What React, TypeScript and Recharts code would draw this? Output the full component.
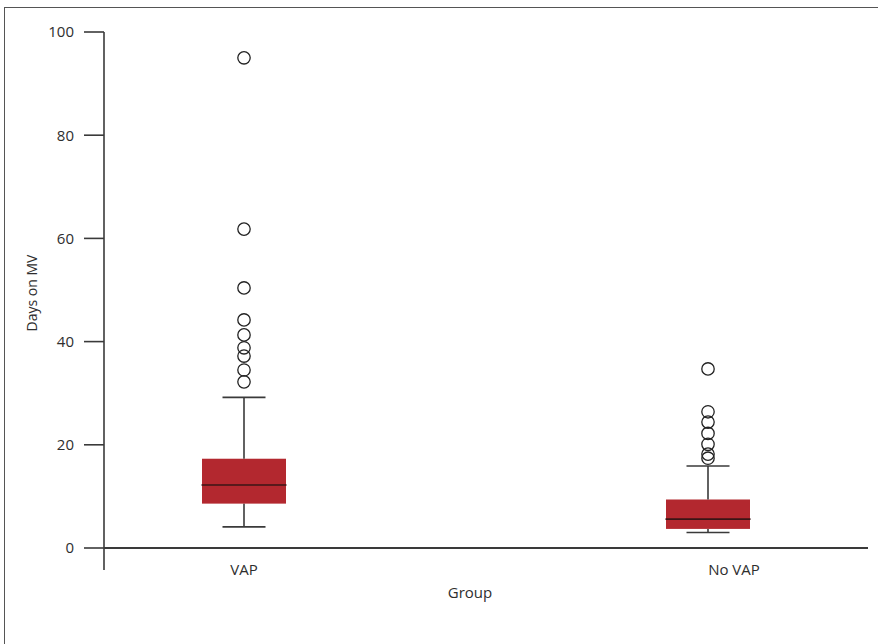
import React from 'react';
import {
  ComposedChart,
  Bar,
  Scatter,
  XAxis,
  YAxis,
  ReferenceLine,
  Label,
} from 'recharts';

// ---- data ----
const groups = ['VAP', 'No VAP'];
const mins = [4.1, 3.0];
const q1s = [8.6, 3.7];
const medians = [12.2, 5.6];
const q3s = [17.3, 9.4];
const maxs = [29.2, 15.9];
const vapOutliers = [32.2, 34.5, 37.2, 38.8, 41.3, 44.2, 50.4, 61.8, 95.0];
const noVapOutliers = [17.4, 18.2, 20.1, 22.2, 24.4, 26.4, 34.7];
const yTicks = [0, 20, 40, 60, 80, 100];

const positions = groups.map((_, i) => i + 1);

const boxData = groups.map((g, i) => ({
  name: g,
  pos: positions[i],
  base: mins[i],
  lowWhisker: q1s[i] - mins[i],
  lowBox: medians[i] - q1s[i],
  highBox: q3s[i] - medians[i],
  highWhisker: maxs[i] - q3s[i],
}));

const outlierData = [
  ...vapOutliers.map((v) => ({ pos: positions[0], value: v })),
  ...noVapOutliers.map((v) => ({ pos: positions[1], value: v })),
];

// ---- styles ----
const BOX_FILL = '#b3282f';
const MEDIAN = '#3a1416';
const LINE = '#3a3a3a';
const TEXT = '#2e2e2e';
const FONT = '"Open Sans", "Noto Sans", sans-serif';
const FS = 15;
const CAP = 43;
const labelShift = [0, 26];

const LowWhisker = (p: any) => {
  const { x, y, width, height } = p;
  const cx = x + width / 2;
  return (
    <g>
      <line x1={cx} x2={cx} y1={y} y2={y + height} stroke={LINE} strokeWidth={1.6} />
      <line x1={cx - CAP / 2} x2={cx + CAP / 2} y1={y + height} y2={y + height} stroke={LINE} strokeWidth={1.6} />
    </g>
  );
};

const HighWhisker = (p: any) => {
  const { x, y, width, height } = p;
  const cx = x + width / 2;
  return (
    <g>
      <line x1={cx} x2={cx} y1={y} y2={y + height} stroke={LINE} strokeWidth={1.6} />
      <line x1={cx - CAP / 2} x2={cx + CAP / 2} y1={y} y2={y} stroke={LINE} strokeWidth={1.6} />
    </g>
  );
};

const LowBox = (p: any) => {
  const { x, y, width, height } = p;
  return <rect x={x} y={y} width={width} height={height} fill={BOX_FILL} />;
};

const HighBox = (p: any) => {
  const { x, y, width, height } = p;
  return (
    <g>
      <rect x={x} y={y} width={width} height={height + 0.5} fill={BOX_FILL} />
      <line x1={x - 0.5} x2={x + width + 0.5} y1={y + height} y2={y + height} stroke={MEDIAN} strokeWidth={1.6} />
    </g>
  );
};

const Outlier = (p: any) => {
  const { cx, cy } = p;
  return <circle cx={cx} cy={cy} r={6.2} fill="none" stroke="#222" strokeWidth={1.3} />;
};

const XTick = (p: any) => {
  const { x, y, payload } = p;
  const idx = positions.indexOf(payload.value);
  if (idx < 0) return null;
  return (
    <text x={x + labelShift[idx]} y={y} dy={5} textAnchor="middle" fill={TEXT} fontSize={FS} fontFamily={FONT}>
      {groups[idx]}
    </text>
  );
};

export default function App() {
  return (
    <div style={{ position: 'absolute', left: 0, top: 0, width: 878, height: 644, overflow: 'hidden', background: '#fff' }}>
      <div
        style={{
          position: 'absolute',
          left: 4,
          top: 7,
          width: 1200,
          height: 1200,
          borderLeft: '1px solid #555',
          borderTop: '1px solid #555',
        }}
      />
      <div style={{ position: 'absolute', left: 0, top: 0 }}>
        <ComposedChart
          width={878}
          height={644}
          data={boxData}
          margin={{ top: 32, right: 10, bottom: 34, left: 0 }}
        >
          <XAxis
            type="number"
            dataKey="pos"
            domain={[1 - 140 / 464, 2 + 160 / 464]}
            ticks={positions}
            axisLine={false}
            tickLine={false}
            tickSize={0}
            tickMargin={0}
            height={40}
            tick={<XTick />}
            interval={0}
            allowDataOverflow
          >
            <Label
              content={(props: any) => {
                const vb = props.viewBox || {};
                return (
                  <text
                    x={vb.x + vb.width / 2 - 16}
                    y={598}
                    textAnchor="middle"
                    fill={TEXT}
                    fontSize={FS}
                    fontFamily={FONT}
                  >
                    Group
                  </text>
                );
              }}
            />
          </XAxis>
          <YAxis
            type="number"
            domain={[-(22 / 516) * 100, 100]}
            ticks={yTicks}
            width={104}
            tickSize={20}
            tickMargin={10}
            allowDataOverflow
            axisLine={{ stroke: LINE, strokeWidth: 1.6 }}
            tickLine={{ stroke: LINE, strokeWidth: 1.6 }}
            tick={{ fill: TEXT, fontSize: FS, fontFamily: FONT }}
            interval={0}
          >
            <Label
              content={() => (
                <text
                  transform="translate(37, 293) rotate(-90)"
                  textAnchor="middle"
                  fill={TEXT}
                  fontSize={14}
                  fontFamily={FONT}
                >
                  Days on MV
                </text>
              )}
            />
          </YAxis>
          <ReferenceLine y={0} stroke={LINE} strokeWidth={1.8} ifOverflow="extendDomain" />
          <Bar dataKey="base" stackId="b" fill="transparent" barSize={84} isAnimationActive={false} />
          <Bar dataKey="lowWhisker" stackId="b" barSize={84} shape={<LowWhisker />} isAnimationActive={false} />
          <Bar dataKey="lowBox" stackId="b" barSize={84} shape={<LowBox />} isAnimationActive={false} />
          <Bar dataKey="highBox" stackId="b" barSize={84} shape={<HighBox />} isAnimationActive={false} />
          <Bar dataKey="highWhisker" stackId="b" barSize={84} shape={<HighWhisker />} isAnimationActive={false} />
          <Scatter data={outlierData} dataKey="value" shape={<Outlier />} isAnimationActive={false} />
        </ComposedChart>
      </div>
    </div>
  );
}
